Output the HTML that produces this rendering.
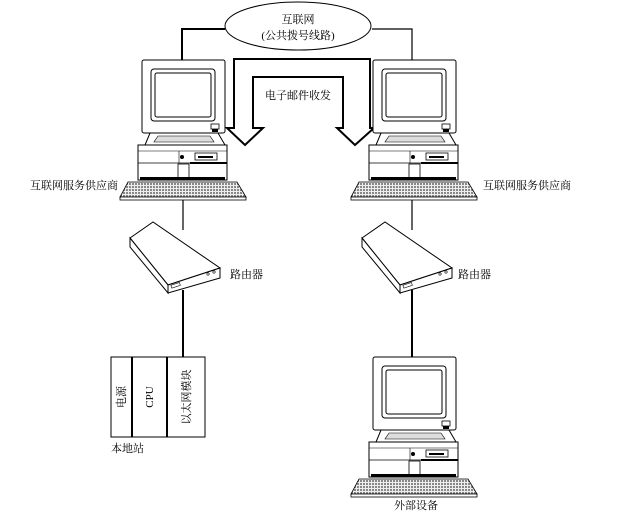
<!DOCTYPE html>
<html><head><meta charset="utf-8"><style>
html,body{margin:0;padding:0;background:#fff}
svg{display:block}
text{font-family:"Liberation Serif","Noto Serif CJK SC","Noto Sans CJK SC",serif;font-size:11px;fill:#000}
</style></head><body>
<svg width="617" height="520" viewBox="0 0 617 520" xmlns="http://www.w3.org/2000/svg">
<defs>
<pattern id="kb" width="3" height="3" patternUnits="userSpaceOnUse">
<rect width="3" height="3" fill="#eee"/><rect width="2" height="2" fill="#888"/>
</pattern>
<g id="pc">
  <rect x="142" y="60" width="83" height="73" rx="2" fill="#fff" stroke="#000" stroke-width="1"/>
  <rect x="151" y="69" width="64" height="52" rx="3" fill="#fff" stroke="#000" stroke-width="1"/>
  <rect x="155" y="73" width="56" height="44" rx="2" fill="#fff" stroke="#000" stroke-width="1"/>
  <rect x="211" y="124" width="8" height="5" fill="#fff" stroke="#000" stroke-width="0.8"/>
  <rect x="212" y="129" width="6" height="3" fill="#000"/>
  <path d="M150 133 L218 133 L225 145 L145 145 Z" fill="#fff" stroke="#000" stroke-width="1"/>
  <path d="M158 136 L210 136 L214 142 L154 142 Z" fill="#ddd" stroke="#000" stroke-width="0.6"/>
  <rect x="138" y="145" width="89" height="35" fill="#fff" stroke="#000" stroke-width="1"/>
  <line x1="138" y1="151" x2="227" y2="151" stroke="#000" stroke-width="0.6"/>
  <line x1="138" y1="163" x2="227" y2="163" stroke="#000" stroke-width="0.8"/>
  <line x1="179" y1="151" x2="179" y2="163" stroke="#000" stroke-width="0.6"/>
  <circle cx="182" cy="157" r="2" fill="#000"/>
  <rect x="195" y="153" width="22" height="7" fill="#fff" stroke="#000" stroke-width="0.8"/>
  <rect x="198" y="156" width="15" height="2" fill="#000"/>
  <line x1="190" y1="163" x2="227" y2="163" stroke="#000" stroke-width="2"/>
  <rect x="178" y="164" width="11" height="14" fill="#fff" stroke="#000" stroke-width="0.8"/>
  <rect x="140" y="177" width="85" height="3" fill="#000"/>
  <path d="M128 182 L237 182 L246 197 L120 197 Z" fill="url(#kb)" stroke="#000" stroke-width="0.8"/>
  <rect x="120" y="197" width="126" height="3" fill="#fff" stroke="#000" stroke-width="0.8"/>
</g>
<g id="rt">
  <path d="M130 238 L153 222 L220 268 L168 285 Z" fill="#fff" stroke="#000" stroke-width="1"/>
  <path d="M130 238 L168 285 L168 293 L130 247 Z" fill="#fff" stroke="#000" stroke-width="1"/>
  <path d="M168 285 L220 268 L220 278 L168 293 Z" fill="#fff" stroke="#000" stroke-width="1"/>
  <rect x="171" y="284" width="9" height="3" fill="#fff" stroke="#000" stroke-width="0.6" transform="rotate(-18 175 285)"/>
  <circle cx="208" cy="274" r="1.2" fill="none" stroke="#000" stroke-width="0.6"/>
  <circle cx="214" cy="272" r="1.2" fill="none" stroke="#000" stroke-width="0.6"/>
</g>
</defs>

<polyline points="225,29 182,29 182,60" fill="none" stroke="#000" stroke-width="2"/>
<polyline points="372,29 412,29 412,60" fill="none" stroke="#000" stroke-width="1.2"/>
<ellipse cx="298" cy="26" rx="73" ry="24" fill="#fff" stroke="#000" stroke-width="1"/>
<text x="298" y="23" text-anchor="middle">互联网</text>
<text x="298" y="39" text-anchor="middle">(公共拨号线路)</text>

<path d="M234 128 L234 59 L370 59 L370 128 L374 128 L355 145 L337 128 L343 128 L343 77 L253 77 L253 128 L263 128 L245 145 L227 128 Z" fill="#fff" stroke="#000" stroke-width="2" stroke-linejoin="miter"/>
<text x="298" y="99" text-anchor="middle">电子邮件收发</text>

<use href="#pc"/>
<use href="#pc" transform="translate(231,0)"/>
<use href="#pc" transform="translate(231,297)"/>

<text x="30" y="189">互联网服务供应商</text>
<text x="483" y="189">互联网服务供应商</text>

<line x1="183" y1="200" x2="183" y2="230" stroke="#000" stroke-width="1.2"/>
<line x1="412" y1="200" x2="412" y2="230" stroke="#000" stroke-width="1.2"/>
<use href="#rt"/>
<use href="#rt" transform="translate(232,0)"/>
<text x="230" y="278">路由器</text>
<text x="458" y="278">路由器</text>

<line x1="183" y1="290" x2="183" y2="357" stroke="#000" stroke-width="2"/>
<line x1="412" y1="290" x2="412" y2="357" stroke="#000" stroke-width="2"/>

<rect x="111" y="357" width="94" height="80" fill="#fff" stroke="#000" stroke-width="1"/>
<line x1="132" y1="357" x2="132" y2="437" stroke="#000" stroke-width="2"/>
<line x1="167" y1="357" x2="167" y2="437" stroke="#000" stroke-width="2"/>
<text transform="translate(125,397) rotate(-90)" text-anchor="middle">电源</text>
<text transform="translate(153,397) rotate(-90)" text-anchor="middle">CPU</text>
<text transform="translate(190,397) rotate(-90)" text-anchor="middle">以太网模块</text>
<text x="111" y="452">本地站</text>
<text x="416" y="509" text-anchor="middle">外部设备</text>
</svg>
</body></html>
